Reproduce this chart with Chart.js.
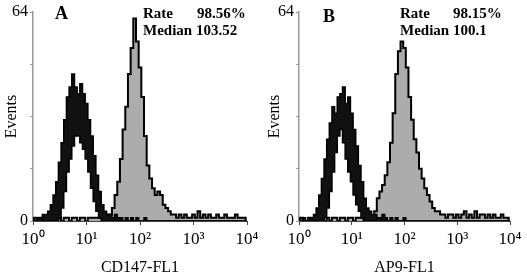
<!DOCTYPE html>
<html>
<head>
<meta charset="utf-8">
<script src="https://cdn.jsdelivr.net/npm/chart.js@4/dist/chart.umd.min.js"></script>
<style>
    html, body { margin: 0; padding: 0; background: #fff; }
    #wrap { position: relative; width: 527px; height: 274px; overflow: hidden; }
    canvas { position: absolute; top: 0; }
    #panelA { left: 0; }
    #panelB { left: 263px; }
</style>
</head>
<body>
<div id="wrap">
    <canvas id="panelA" width="263" height="274"></canvas>
    <canvas id="panelB" width="264" height="274"></canvas>
</div>
<script>
// position of each histogram channel, in decades (0 = 10^0 ... 4 = 10^4)
const channels = [
    0.00, 0.05, 0.10, 0.15, 0.20, 0.25, 0.30, 0.35, 0.40, 0.45,
    0.50, 0.55, 0.60, 0.65, 0.70, 0.75, 0.80, 0.85, 0.90, 0.95,
    1.00, 1.05, 1.10, 1.15, 1.20, 1.25, 1.30, 1.35, 1.40, 1.45,
    1.50, 1.55, 1.60, 1.65, 1.70, 1.75, 1.80, 1.85, 1.90, 1.95,
    2.00, 2.05, 2.10, 2.15, 2.20, 2.25, 2.30, 2.35, 2.40, 2.45,
    2.50, 2.55, 2.60, 2.65, 2.70, 2.75, 2.80, 2.85, 2.90, 2.95,
    3.00, 3.05, 3.10, 3.15, 3.20, 3.25, 3.30, 3.35, 3.40, 3.45,
    3.50, 3.55, 3.60, 3.65, 3.70, 3.75, 3.80, 3.85, 3.90, 3.95,
    4.00
];

const xTickLabels = ['10⁰', '10¹', '10²', '10³', '10⁴'];
const yTickLabels = { 0: '0', 64: '64' };
const panelLetters = ['A', 'B'];
const xTitles = ['CD147-FL1', 'AP9-FL1'];
const rateValues = ['98.56%', '98.15%'];
const medianValues = ['103.52', '100.1'];

// Panel A - isotype control (noisy black band: upper and lower edge) and CD147 (grey)
const ctrlHiA = [
    1, 0, 1, 1, 2, 2, 3, 5, 8, 12,
    18, 24, 31, 38, 41, 45, 41, 39, 42, 39,
    36, 31, 26, 20, 14, 9, 5, 3, 2, 2,
    1, 2, 1, 1, 0, 1, 0, 1, 0, 1,
    0, 0, 1, 0, 0, 0, 0, 0, 0, 0,
    0, 0, 0, 0, 0, 0, 0, 0, 0, 0,
    0, 0, 0, 0, 0, 0, 0, 0, 0, 0,
    0, 0, 0, 0, 0, 0, 0, 0, 0, 0,
    0
];
const ctrlLoA = [
    0, 0, 0, 0, 0, 0, 0, 0, 0, 0,
    1, 4, 9, 15, 19, 23, 26, 26, 24, 22,
    19, 15, 10, 6, 3, 1, 0, 0, 0, 0,
    0, 0, 0, 0, 0, 0, 0, 0, 0, 0,
    0, 0, 0, 0, 0, 0, 0, 0, 0, 0,
    0, 0, 0, 0, 0, 0, 0, 0, 0, 0,
    0, 0, 0, 0, 0, 0, 0, 0, 0, 0,
    0, 0, 0, 0, 0, 0, 0, 0, 0, 0,
    0
];
const testA = [
    0, 1, 0, 1, 0, 1, 0, 1, 1, 0,
    1, 0, 1, 1, 0, 1, 1, 0, 1, 1,
    0, 1, 1, 1, 1, 1, 1, 1, 2, 2,
    4, 8, 12, 19, 28, 35, 45, 53, 62, 55,
    47, 38, 26, 17, 13, 10, 8, 9, 8, 5,
    4, 3, 2, 2, 1, 2, 1, 2, 1, 1,
    2, 1, 3, 1, 2, 1, 2, 1, 1, 2,
    1, 1, 2, 1, 1, 1, 2, 1, 1, 1,
    0
];

// Panel B - isotype control and AP9 (grey)
const ctrlHiB = [
    1, 0, 1, 0, 1, 1, 2, 4, 8, 13,
    19, 25, 30, 35, 33, 38, 39, 41, 36, 38,
    33, 28, 23, 17, 12, 7, 4, 3, 2, 2,
    1, 1, 2, 1, 0, 1, 0, 1, 0, 0,
    1, 0, 0, 0, 0, 0, 0, 0, 0, 0,
    0, 0, 0, 0, 0, 0, 0, 0, 0, 0,
    0, 0, 0, 0, 0, 0, 0, 0, 0, 0,
    0, 0, 0, 0, 0, 0, 0, 0, 0, 0,
    0
];
const ctrlLoB = [
    0, 0, 0, 0, 0, 0, 0, 0, 0, 0,
    1, 4, 9, 15, 21, 26, 28, 24, 19, 15,
    12, 8, 5, 3, 1, 0, 0, 0, 0, 0,
    0, 0, 0, 0, 0, 0, 0, 0, 0, 0,
    0, 0, 0, 0, 0, 0, 0, 0, 0, 0,
    0, 0, 0, 0, 0, 0, 0, 0, 0, 0,
    0, 0, 0, 0, 0, 0, 0, 0, 0, 0,
    0, 0, 0, 0, 0, 0, 0, 0, 0, 0,
    0
];
const testB = [
    0, 1, 0, 0, 1, 0, 1, 0, 1, 1,
    0, 1, 0, 1, 1, 0, 1, 1, 0, 1,
    1, 0, 1, 1, 1, 0, 1, 1, 1, 3,
    7, 9, 11, 14, 18, 24, 33, 45, 52, 55,
    53, 47, 38, 31, 25, 21, 16, 13, 10, 8,
    6, 4, 3, 3, 2, 2, 1, 2, 2, 1,
    2, 1, 2, 3, 1, 2, 1, 3, 1, 2,
    2, 1, 2, 1, 2, 1, 1, 2, 1, 1,
    0
];

(function() {
    const SERIF = "'Liberation Serif', 'Times New Roman', serif";

    function toPoints(values) {
        return channels.map((c, i) => ({ x: c, y: values[i] }));
    }

    // panel letter + Rate / Median text, drawn on the canvas
    const notesPlugin = {
        id: 'notes',
        afterDraw(chart) {
            const n = chart.options.plugins.notes;
            const ctx = chart.ctx;
            ctx.save();
            ctx.fillStyle = '#000';
            ctx.textBaseline = 'alphabetic';
            ctx.font = 'bold 18px ' + SERIF;
            ctx.fillText(n.letter, n.letterX, n.letterY);
            ctx.font = 'bold 15px ' + SERIF;
            ctx.fillText('Rate', n.textX, n.rateY);
            ctx.fillText(n.rate, n.valueX, n.rateY);
            ctx.fillText('Median ' + n.median, n.textX, n.medianY);
            ctx.restore();
        }
    };

    function renderPanel(id, i, lo, hi, test, box, notes) {
        const ctx = document.getElementById(id).getContext('2d');
        new Chart(ctx, {
            type: 'line',
            data: {
                datasets: [
                    { data: toPoints(lo), stepped: 'middle', pointRadius: 0, borderColor: '#000', borderWidth: 1.5, fill: false },
                    { data: toPoints(hi), stepped: 'middle', pointRadius: 0, borderColor: '#000', borderWidth: 1.5, fill: '-1', backgroundColor: '#111' },
                    { data: toPoints(test), stepped: 'middle', pointRadius: 0, borderColor: '#000', borderWidth: 2, fill: 'origin', backgroundColor: '#acacac' }
                ]
            },
            options: {
                responsive: false,
                animation: false,
                devicePixelRatio: 1,
                layout: { padding: { left: 0, right: box.right, top: 12, bottom: 0 } },
                plugins: {
                    legend: { display: false },
                    tooltip: { enabled: false },
                    notes: notes
                },
                scales: {
                    x: {
                        type: 'linear',
                        min: 0,
                        max: 4,
                        afterFit: s => { s.height = 53; },
                        border: { color: '#444', width: 1 },
                        grid: { drawOnChartArea: false, tickLength: 4, color: '#444' },
                        ticks: {
                            stepSize: 1,
                            autoSkip: false,
                            maxRotation: 0,
                            padding: 4,
                            color: '#000',
                            font: { family: SERIF, size: 17 },
                            callback: v => xTickLabels[v]
                        },
                        title: {
                            display: true,
                            text: xTitles[i],
                            color: '#000',
                            font: { family: SERIF, size: 16 },
                            padding: { top: 0, bottom: -3 }
                        }
                    },
                    y: {
                        min: 0,
                        max: 64,
                        afterFit: s => { s.width = box.left; },
                        border: { color: '#999', width: 1.5 },
                        grid: { drawOnChartArea: false, tickLength: 3, color: '#999' },
                        ticks: {
                            stepSize: 16,
                            padding: 2,
                            crossAlign: 'near',
                            color: '#000',
                            font: { family: SERIF, size: 16 },
                            callback: v => yTickLabels[v] || ''
                        },
                        title: {
                            display: true,
                            text: 'Events',
                            color: '#000',
                            font: { family: SERIF, size: 16 },
                            padding: { top: 2, bottom: 0 }
                        }
                    }
                }
            },
            plugins: [notesPlugin]
        });
    }

    renderPanel('panelA', 0, ctrlLoA, ctrlHiA, testA, { left: 33, right: 16 }, {
        letter: panelLetters[0], letterX: 55, letterY: 19,
        textX: 143, valueX: 197, rateY: 18, medianY: 35,
        rate: rateValues[0], median: medianValues[0]
    });
    renderPanel('panelB', 1, ctrlLoB, ctrlHiB, testB, { left: 36, right: 17 }, {
        letter: panelLetters[1], letterX: 60, letterY: 22,
        textX: 137, valueX: 190, rateY: 18, medianY: 35,
        rate: rateValues[1], median: medianValues[1]
    });
})();
</script>
</body>
</html>
